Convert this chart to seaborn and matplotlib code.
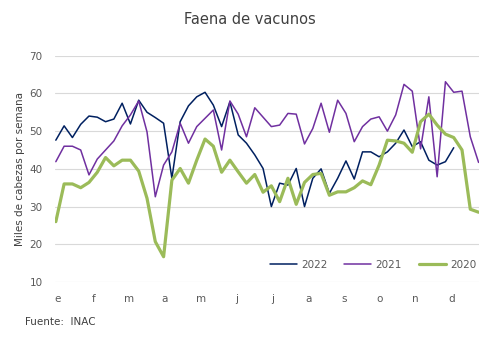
import numpy as np
import pandas as pd
import matplotlib
matplotlib.use("Agg")
import matplotlib.pyplot as plt
import seaborn as sns

# ---- data ----
months = ["e", "f", "m", "a", "m", "j", "j", "a", "s", "o", "n", "d"]

v2022 = [47.6, 51.4, 48.3, 51.8, 54.0, 53.7, 52.5, 53.2, 57.4, 51.9,
         58.2, 55.0, 53.6, 52.1, 37.5, 52.5, 56.7, 59.1, 60.3, 56.9,
         51.2, 57.8, 49.0, 46.8, 43.7, 40.1, 30.0, 36.2, 35.7, 40.1,
         30.0, 37.5, 40.0, 33.5, 37.5, 42.1, 37.3, 44.5, 44.5, 43.2,
         44.5, 46.8, 50.3, 45.9, 47.2, 42.3, 41.0, 41.9, 45.6]

v2021 = [41.9, 46.0, 46.0, 45.0, 38.4, 42.6, 45.0, 47.4, 51.4, 54.3,
         58.0, 49.8, 32.6, 41.0, 44.5, 52.1, 46.8, 51.2, 53.4, 55.6,
         45.0, 58.0, 54.5, 48.5, 56.2, 53.7, 51.2, 51.6, 54.7, 54.5,
         46.6, 50.7, 57.4, 49.7, 58.2, 54.7, 47.2, 51.2, 53.2, 53.8,
         50.0, 54.3, 62.4, 60.6, 45.3, 59.1, 37.9, 63.1, 60.3, 60.6,
         48.5, 41.7]

v2020 = [26.0, 36.0, 36.0, 35.0, 36.4, 39.1, 43.0, 40.8, 42.3, 42.3,
         39.4, 32.2, 20.7, 16.7, 37.0, 40.1, 36.2, 42.3, 47.9, 46.0,
         39.1, 42.3, 39.2, 36.2, 38.5, 33.8, 35.5, 31.3, 37.5, 30.6,
         36.4, 38.5, 38.8, 33.0, 33.9, 33.9, 35.0, 36.8, 35.8, 41.0,
         47.6, 47.4, 46.8, 44.4, 52.5, 54.5, 51.6, 49.2, 48.3, 45.0,
         29.3, 28.5]

series_names = ["2022", "2021", "2020"]
series_vals = [v2022, v2021, v2020]
colors = ["#002060", "#7030A0", "#9BBB59"]
widths = [1.1, 1.1, 2.3]

frames = []
for name, vals in zip(series_names, series_vals):
    frames.append(pd.DataFrame({"semana": np.arange(len(vals)),
                                "valor": vals, "serie": name}))
df = pd.concat(frames, ignore_index=True)

sns.set_style("white")
plt.rcParams["font.family"] = ["DejaVu Sans"]

W, H = 499, 344
fig = plt.figure(figsize=(W / 100, H / 100), dpi=100)
ax = fig.add_axes([55 / W, 1 - 282 / H, (479 - 55) / W, (282 - 55.7) / H])

for name, col, lw in zip(series_names, colors, widths):
    sns.lineplot(data=df[df["serie"] == name], x="semana", y="valor",
                 color=col, linewidth=lw, label=name, ax=ax)

ax.set_xlim(-0.1, 51.05)
ax.set_ylim(10, 70)
ax.set_yticks(np.arange(10, 71, 10))
ax.yaxis.grid(True, color="#D9D9D9", linewidth=0.8)
ax.xaxis.grid(False)
for s in ax.spines.values():
    s.set_visible(False)

tick_pos = 0.2 + np.arange(12) * 4.32
ax.set_xticks(tick_pos)
ax.set_xticklabels(months)
ax.tick_params(axis="both", length=0, labelsize=7.5, colors="#595959")
ax.tick_params(axis="x", pad=9)
ax.tick_params(axis="y", pad=9)
ax.set_xlabel("")
ax.set_ylabel("")

leg = ax.legend(loc="center", bbox_to_anchor=(0.75, 0.075), ncol=3,
                frameon=False, fontsize=7.5, handlelength=2.6,
                handletextpad=0.4, columnspacing=1.6)
for t in leg.get_texts():
    t.set_color("#595959")

fig.text(250 / W, 1 - 20 / H, "Faena de vacunos", ha="center", va="center",
         fontsize=10.5, color="#404040")
fig.text(20 / W, 1 - 169 / H, "Miles de cabezas por semana", rotation=90,
         ha="center", va="center", fontsize=7.5, color="#404040")
fig.text(25 / W, 1 - 322 / H, "Fuente:  INAC", ha="left", va="center",
         fontsize=7.5, color="#404040")

fig.savefig("out.png", dpi=100)
